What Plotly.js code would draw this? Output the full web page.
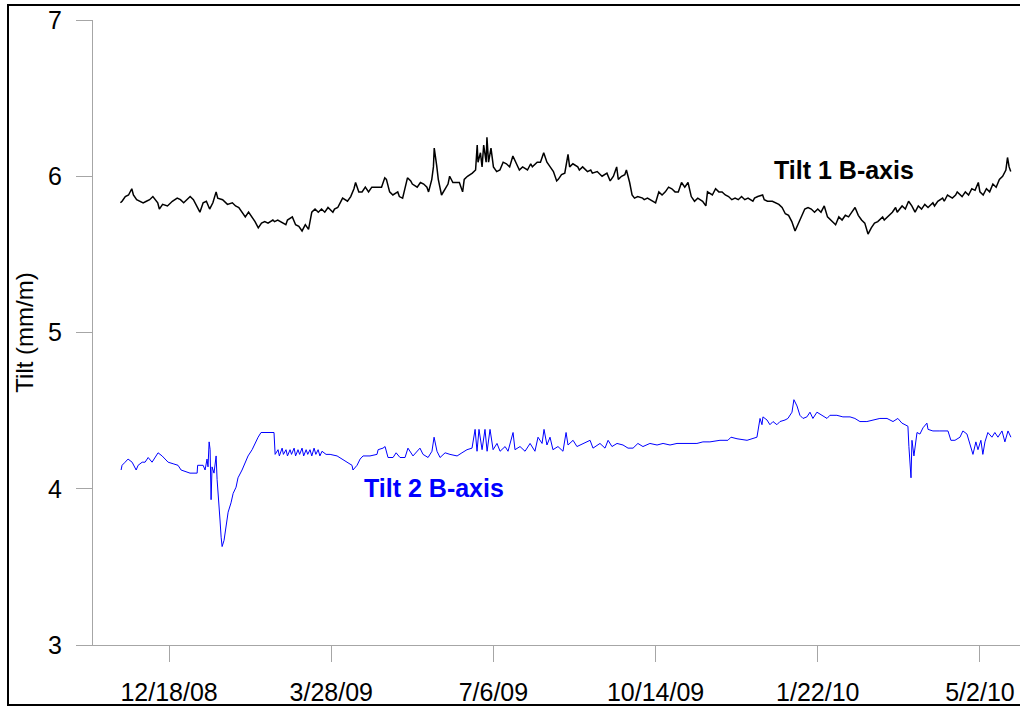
<!DOCTYPE html>
<html>
<head>
<meta charset="utf-8">
<script src="https://cdn.plot.ly/plotly-3.0.1.min.js"></script>
<style>
  html, body { margin: 0; padding: 0; background: #fff; }
  #wrap { position: relative; width: 1020px; height: 706px; overflow: hidden; }
  #chart { position: absolute; left: 0; top: 0; width: 1020px; height: 706px; }
  #frame { position: absolute; left: 7px; top: 4px; width: 1040px; height: 702px; border: 2px solid #000; box-sizing: border-box; pointer-events: none; }
</style>
</head>
<body>
<div id="wrap"><div id="chart"></div><div id="frame"></div></div>
<script>
// Day offsets are counted from 12/18/08
const baseDay = '2008-12-18';

const tilt1Days = [-30,-29,-27,-25,-23,-22,-20,-18,-16,-14,-12,-10,-7,-6,-4,-1,1,2,5,7,9,11,13,15,17,19,21,23,25,27,29,30,33,35,36,39,41,43,45,47,49,51,53,55,57,59,61,64,65,67,70,72,73,76,78,80,82,84,86,88,90,92,94,96,98,101,102,104,105.5,107,110,112,114,115,117,119,121,123,125,127,129,131,133,134,136,138,141,142,144,147,149,150,153,155,157,159,160,162,163,163.5,165,166,168,170,172,173,175,178,179,181,182,184,187,189,190,190.5,192,193,194,195.5,196,197,198.5,200,202,204,206,208,210,212,215,216,218,221,223,224,227,229,231,233,235,237,239,240,242,244,246,247,249,252,253,255,258,260,261,264,266,267,270,272,274,276,277,279,281,282,284,285.5,287,289,292,293,295,298,300,302,304,306,308,310,312,314,316,318,320,322,324,326,329,331,332,335,337,339,341,343,345,347,349,351,353,355,357,360,361,363,366,367,369,372,374,376,378,380,382,384,386,388,390,392,394,396,398,400,402,404,406,409,411,413,415,417,419,421,423,425,427,429,431,433,435,437,440,441,443,446,448,449,452,454,456,458,460,462,464,466,468,471,472,474,477,478,480,483,485,486,489,491,493,495,497,499,500,502,504,506,508,510,512,514,516,517,518,519];
const tilt1Values = [5.83,5.84,5.87,5.88,5.92,5.88,5.85,5.84,5.83,5.84,5.85,5.87,5.83,5.79,5.82,5.81,5.83,5.84,5.86,5.85,5.83,5.85,5.87,5.85,5.81,5.77,5.83,5.84,5.79,5.83,5.90,5.86,5.85,5.83,5.82,5.83,5.81,5.80,5.77,5.74,5.77,5.74,5.71,5.67,5.70,5.71,5.70,5.72,5.71,5.72,5.70,5.69,5.72,5.74,5.69,5.68,5.65,5.69,5.66,5.77,5.79,5.77,5.79,5.77,5.80,5.77,5.79,5.80,5.83,5.86,5.84,5.87,5.92,5.96,5.90,5.90,5.93,5.90,5.93,5.93,5.93,5.93,5.99,5.98,5.90,5.88,5.90,5.87,5.86,5.99,5.97,5.95,5.93,5.96,5.95,5.93,5.90,5.98,6.06,6.18,6.07,5.98,5.88,5.92,5.95,6.00,5.96,5.96,5.96,5.90,5.98,6.00,6.02,6.04,6.20,6.09,6.15,6.06,6.20,6.09,6.25,6.09,6.18,6.06,6.03,6.04,6.09,6.08,6.06,6.13,6.06,6.04,6.06,6.04,6.08,6.06,6.09,6.09,6.15,6.09,6.06,6.03,5.97,5.98,6.01,6.02,6.14,6.06,6.08,6.06,6.04,6.06,6.03,6.04,6.02,6.03,6.01,6.00,6.02,5.97,6.00,6.06,5.98,6.00,6.01,6.04,5.96,5.88,5.86,5.87,5.86,5.85,5.86,5.84,5.83,5.90,5.88,5.90,5.93,5.92,5.90,5.90,5.96,5.93,5.96,5.87,5.84,5.86,5.84,5.81,5.90,5.88,5.92,5.90,5.90,5.88,5.87,5.85,5.86,5.85,5.87,5.85,5.86,5.84,5.86,5.87,5.88,5.85,5.84,5.84,5.83,5.82,5.80,5.76,5.75,5.71,5.65,5.70,5.74,5.79,5.80,5.79,5.77,5.79,5.77,5.81,5.74,5.71,5.69,5.74,5.72,5.75,5.74,5.77,5.80,5.75,5.72,5.70,5.63,5.67,5.70,5.71,5.74,5.72,5.74,5.77,5.80,5.77,5.81,5.79,5.84,5.81,5.77,5.81,5.79,5.82,5.80,5.83,5.81,5.84,5.86,5.84,5.88,5.86,5.88,5.90,5.87,5.90,5.88,5.92,5.91,5.96,5.90,5.88,5.92,5.90,5.95,5.93,5.98,6.00,6.04,6.12,6.06,6.03];

const tilt2Days = [-29.6,-29.0,-27.1,-25.3,-22.8,-20.3,-19.1,-16.6,-14.8,-12.9,-10.5,-8.6,-6.8,-4.3,-2.5,-0.6,2.5,5.5,7.4,9.9,12.9,17.3,17.6,21.0,22.2,23.4,24.0,24.7,25.3,25.9,26.5,27.7,29.0,29.6,30.2,31.4,32.1,32.7,33.9,35.1,36.4,38.2,39.5,41.3,42.5,45.0,46.9,48.7,51.2,53.0,54.9,56.7,60.4,64.7,65.4,67.2,68,69.7,70.5,72.1,73,74.6,75.5,77.1,78,79.5,80.5,82.0,83,84.5,85.5,86.9,88,89.4,90.5,91.9,93,94.3,96.8,99.3,103.6,106.7,109.7,112.8,113.4,115.9,117.8,119.6,123.9,128.2,128.9,131.9,133.2,135.0,138.1,140,142.4,145.5,147.3,150.4,154.7,156.6,159.7,162.1,163.4,165.2,167.1,170.2,173.2,177.6,180.6,183.7,186.8,188.7,189.9,191.1,193.0,194.8,196.1,197.9,199.8,202.2,204.1,207.2,209.0,212.1,213.3,216.4,219.5,222.6,225.6,227.5,230.0,231.2,233.0,234.9,236.7,239.8,242.9,244.8,246.0,249.1,251.5,255.2,259.6,261.4,265.7,268.8,270.7,273.1,276.2,279.9,283.0,286.1,289.1,292.2,296.5,300.9,304.6,308.9,313.2,316.9,321.2,325.5,329.2,333.5,339.7,344.6,346.5,350.2,356.4,360.0,362.5,364.4,365.6,366.2,368.7,370.5,372.4,374.8,376.7,379.8,381.6,384.1,385.3,387.2,389.0,390.9,393.3,395.2,397.0,399.5,402.6,405.7,407.5,411.8,415.5,419.9,422.9,426.0,430.3,434.0,438.3,442.7,446.4,449.4,451.9,453.8,455.6,456.2,457.5,458.1,459.3,461.2,463.0,464.9,467.3,468.0,471.0,475.3,480.3,482.1,484.6,487.7,489.5,492.0,493.8,495.7,497.5,498.8,500.6,501.8,503.1,504.9,507.4,509.2,511.1,513.6,515.4,517.3,519.1];
const tilt2Values = [4.12,4.15,4.17,4.19,4.17,4.12,4.15,4.17,4.17,4.20,4.17,4.20,4.23,4.21,4.19,4.17,4.16,4.15,4.12,4.11,4.10,4.10,4.15,4.15,4.12,4.19,4.14,4.30,4.25,3.93,4.14,4.10,4.21,4.06,3.95,3.80,3.69,3.63,3.67,3.76,3.85,3.91,3.97,4.01,4.07,4.12,4.17,4.21,4.25,4.29,4.33,4.36,4.36,4.36,4.22,4.25,4.21,4.26,4.22,4.25,4.21,4.25,4.22,4.26,4.21,4.25,4.22,4.26,4.21,4.25,4.22,4.25,4.21,4.26,4.22,4.25,4.21,4.24,4.22,4.22,4.21,4.19,4.17,4.15,4.12,4.15,4.19,4.21,4.21,4.22,4.25,4.26,4.27,4.20,4.20,4.23,4.20,4.20,4.26,4.21,4.26,4.22,4.20,4.24,4.33,4.24,4.20,4.23,4.22,4.21,4.23,4.25,4.26,4.38,4.24,4.38,4.25,4.38,4.24,4.38,4.25,4.29,4.24,4.27,4.24,4.36,4.25,4.27,4.24,4.29,4.24,4.33,4.29,4.38,4.28,4.33,4.25,4.27,4.24,4.36,4.28,4.31,4.27,4.29,4.31,4.26,4.29,4.26,4.31,4.27,4.29,4.28,4.26,4.26,4.29,4.27,4.29,4.28,4.29,4.28,4.29,4.29,4.29,4.29,4.30,4.30,4.31,4.31,4.33,4.32,4.31,4.32,4.33,4.45,4.41,4.46,4.44,4.41,4.43,4.41,4.43,4.44,4.45,4.49,4.57,4.53,4.47,4.45,4.46,4.49,4.45,4.49,4.47,4.45,4.47,4.47,4.46,4.46,4.45,4.43,4.43,4.44,4.45,4.45,4.43,4.45,4.42,4.41,4.40,4.27,4.07,4.31,4.21,4.36,4.35,4.39,4.42,4.38,4.37,4.37,4.37,4.31,4.31,4.33,4.37,4.35,4.29,4.22,4.30,4.25,4.31,4.22,4.30,4.36,4.33,4.36,4.33,4.37,4.30,4.37,4.33];

const tickDates = ['2008-12-18','2009-03-28','2009-07-06','2009-10-14','2010-01-22','2010-05-02'];
const tickLabels = ['12/18/08','3/28/09','7/6/09','10/14/09','1/22/10','5/2/10'];
const yTicks = [3,4,5,6,7];

const baseMs = Date.parse(baseDay + 'T00:00:00Z');
function toDate(d) {
  return new Date(baseMs + d * 86400000).toISOString().slice(0, 19);
}

const FONT = 'Liberation Sans, Arial, sans-serif';
const GRAY = '#a6a6a6';

const traces = [
  { x: tilt1Days.map(toDate), y: tilt1Values, type: 'scatter', mode: 'lines',
    line: { color: '#000000', width: 1.5 }, name: 'Tilt 1 B-axis', hoverinfo: 'x+y' },
  { x: tilt2Days.map(toDate), y: tilt2Values, type: 'scatter', mode: 'lines',
    line: { color: '#0000ff', width: 1 }, name: 'Tilt 2 B-axis', hoverinfo: 'x+y' }
];

const layout = {
  width: 1020, height: 706,
  margin: { l: 93, r: 0, t: 20, b: 61 },
  paper_bgcolor: '#ffffff', plot_bgcolor: '#ffffff',
  showlegend: false,
  font: { family: FONT, color: '#000', size: 25 },
  xaxis: {
    type: 'date',
    range: ['2008-11-01 02:00', '2010-05-26 17:00'],
    tickvals: tickDates, ticktext: tickLabels,
    showgrid: false, zeroline: false,
    showline: true, linecolor: GRAY, linewidth: 1,
    ticks: 'outside', ticklen: 16, tickcolor: GRAY, tickwidth: 1,
    ticklabelposition: 'outside',
    ticklabelstandoff: 9,
    tickfont: { family: FONT, size: 25, color: '#000' }
  },
  yaxis: {
    range: [3, 7],
    tickvals: yTicks,
    showgrid: false, zeroline: false,
    showline: true, linecolor: GRAY, linewidth: 1,
    ticks: 'outside', ticklen: 16, tickcolor: GRAY, tickwidth: 1,
    ticklabelstandoff: 9,
    tickfont: { family: FONT, size: 25, color: '#000' },
    title: { text: 'Tilt (mm/m)', font: { family: FONT, size: 24, color: '#000' }, standoff: 7 }
  },
  annotations: [
    { xref: 'paper', yref: 'paper', x: 0.81, y: 0.76, text: '<b>Tilt 1 B-axis</b>',
      showarrow: false, font: { family: FONT, size: 25, color: '#000' }, xanchor: 'center', yanchor: 'middle' },
    { xref: 'paper', yref: 'paper', x: 0.368, y: 0.251, text: '<b>Tilt 2 B-axis</b>',
      showarrow: false, font: { family: FONT, size: 25, color: '#0000ff' }, xanchor: 'center', yanchor: 'middle' }
  ]
};

Plotly.newPlot('chart', traces, layout, { staticPlot: true, displayModeBar: false });
</script>
</body>
</html>
